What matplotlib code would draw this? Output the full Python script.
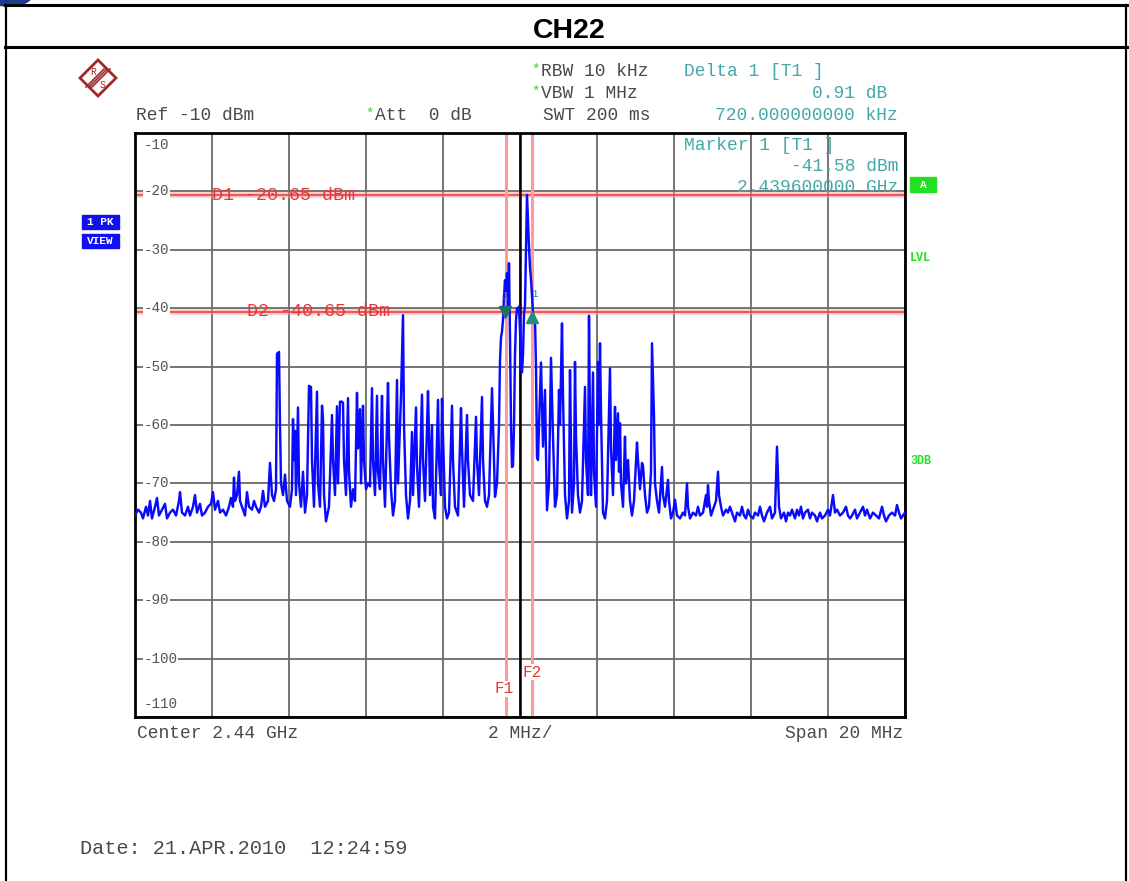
import matplotlib
matplotlib.use("Agg")
import matplotlib.pyplot as plt
import numpy as np
from matplotlib.patches import Polygon, Rectangle, Ellipse
from matplotlib.lines import Line2D

# ---------------- data ----------------
CENTER_MHZ = 2440.0
SPAN_MHZ = 20.0
N_BINS = 770
REF_DBM = -10.0
RANGE_DB = 100.0

D1_DBM = -20.65
D2_DBM = -40.65
M1_FREQ_MHZ = 2439.6
M1_LEVEL = -41.58
DELTA_FREQ_KHZ = 720.0
DELTA_DB = 0.91
F1_MHZ = 2439.63
F2_MHZ = 2440.32

y_tick_values = [-10, -20, -30, -40, -50, -60, -70, -80, -90, -100, -110]

trace_bin = [
    0, 3, 6, 8, 11, 13, 15, 17, 20, 22, 24, 27, 30, 32, 35, 38, 41, 44, 45, 47,
    50, 53, 55, 58, 60, 62, 65, 67, 70, 73, 76, 78, 80, 83, 85, 88, 91, 94, 96, 98,
    99, 100, 102, 104, 105, 108, 110, 112, 114, 117, 119, 121, 124, 126, 128, 130, 133, 135, 137, 139,
    141, 142, 144, 145, 146, 148, 150, 152, 155, 157, 158, 159, 160, 161, 163, 164, 166, 168, 170, 172,
    174, 176, 177, 179, 182, 183, 185, 187, 188, 189, 191, 194, 197, 198, 200, 202, 203, 205, 207, 208,
    209, 211, 213, 214, 216, 218, 220, 222, 223, 225, 226, 228, 229, 231, 233, 235, 237, 238, 240, 242,
    243, 245, 247, 248, 250, 253, 254, 256, 258, 260, 262, 263, 266, 268, 269, 271, 273, 275, 277, 278,
    281, 282, 284, 287, 288, 290, 293, 294, 295, 297, 298, 300, 303, 304, 306, 307, 308, 310, 312, 314,
    317, 318, 320, 323, 326, 327, 329, 332, 333, 335, 338, 341, 342, 344, 347, 348, 350, 352, 354, 357,
    358, 360, 362, 364, 365, 366, 367, 368, 369, 370, 371, 372, 373, 374, 375, 376, 377, 378, 379, 380,
    381, 382, 383, 384, 385, 386, 387, 388, 389, 390, 391, 392, 393, 394, 395, 396, 397, 398, 399, 400,
    401, 402, 403, 404, 406, 408, 410, 411, 412, 414, 416, 418, 420, 422, 424, 425, 427, 428, 430, 432,
    434, 435, 436, 437, 439, 440, 441, 443, 445, 447, 450, 451, 453, 454, 455, 456, 458, 459, 461, 463,
    464, 465, 466, 468, 470, 472, 475, 476, 478, 480, 481, 483, 484, 485, 486, 488, 490, 491, 493, 495,
    497, 499, 502, 503, 505, 507, 508, 510, 512, 514, 516, 517, 518, 519, 520, 522, 524, 527, 528, 530,
    533, 534, 536, 538, 540, 542, 545, 548, 550, 552, 553, 555, 558, 561, 563, 565, 568, 570, 571, 572,
    573, 574, 576, 579, 581, 583, 584, 586, 588, 591, 593, 595, 598, 600, 602, 605, 607, 609, 611, 613,
    615, 618, 620, 623, 625, 627, 629, 632, 635, 637, 640, 642, 643, 644, 646, 649, 651, 653, 655, 657,
    660, 662, 664, 666, 668, 670, 673, 675, 677, 680, 682, 685, 687, 690, 693, 695, 698, 700, 702, 705,
    708, 711, 713, 715, 717, 720, 722, 725, 728, 730, 732, 735, 738, 741, 744, 747, 749, 751, 754, 757,
    760, 762, 764, 766, 768, 770,
]

trace_dbm = [
    -75.5, -74.5, -75, -76, -74, -75.5, -73, -76, -74, -72.5, -75.5, -74.5, -73.5, -76, -75, -74.5, -75.5, -73, -71.5, -75,
    -75.5, -74, -75.5, -74, -72, -75, -73.5, -75.5, -75, -74, -73.5, -71.5, -74.5, -73, -75, -74.5, -75.5, -74, -72.5, -74,
    -69, -73, -72, -68, -73, -74.5, -75.5, -71.5, -74, -74.5, -73, -74, -75, -74, -71.3, -74, -73, -66.5, -72, -73,
    -71, -47.8, -47.5, -60, -70, -72, -68.5, -73, -74, -71, -59, -66, -61, -72, -57, -70, -74, -68, -75, -72,
    -53.3, -53.5, -66, -74, -54.3, -70, -74, -56.7, -59, -72, -76.5, -74, -58.3, -66, -72, -56.8, -70, -56, -56, -56.2,
    -66, -72, -55.4, -68, -74, -71, -73, -54.5, -64, -57.3, -70, -56.7, -66, -71, -70, -70.5, -53.7, -66, -72, -55,
    -68, -71, -55, -66, -74, -52.8, -62, -71, -75.5, -73, -52.3, -70, -55, -41.2, -60, -72, -76, -73, -61.2, -72,
    -57, -67, -74, -54.8, -66, -73, -54.2, -62, -72, -60, -74, -76, -55.7, -66, -72, -55.5, -62, -74, -76, -75,
    -56.7, -66, -74, -75.5, -57.1, -64, -74, -58.3, -66, -72, -73, -58.6, -66, -72, -55.2, -66, -73, -74, -72, -53.7,
    -60, -72.3, -70, -60, -49, -45, -44, -42, -38, -35.2, -37, -34, -40, -32.3, -45, -60, -67.2, -67, -60, -48,
    -42, -40, -40.5, -39.7, -44, -50, -51, -48, -41, -39.5, -30, -20.6, -25, -29.5, -33, -35, -38, -40.8, -41.5, -42,
    -50, -65.5, -66, -60, -49.3, -63.7, -54, -65, -74.6, -70, -48.5, -62, -74, -72, -54, -60, -42.6, -55, -72, -76,
    -73, -50.6, -64, -75, -70, -49.2, -62, -72, -75, -73, -53.5, -66, -72, -41.3, -60, -72, -51, -68, -74, -49.2,
    -60, -46, -58, -75, -76, -73, -50.3, -64, -72, -56.9, -66, -58, -68, -59.7, -70, -74, -62, -70, -66, -73,
    -75.5, -73, -63, -66, -71, -66.5, -67, -72, -75, -74, -68, -46, -52, -58.6, -70, -73, -75, -67.2, -72, -74,
    -69.4, -73, -76, -75, -72.8, -75.5, -76, -75, -75.5, -70, -74, -76, -75, -75.5, -74, -75.5, -75, -73, -72, -74,
    -70.3, -73, -75.5, -74, -73, -68, -72, -74, -75.5, -74.5, -75, -74, -75.5, -76.5, -75, -75.5, -74, -75.5, -76, -74.5,
    -75.5, -76, -75, -75.5, -74, -75.5, -76.5, -75, -74, -76, -75, -63.7, -69, -74, -76, -75, -76.5, -75, -75.5, -74.5,
    -76, -74.5, -75.5, -74, -76, -75, -74.5, -76, -75, -75.5, -76.5, -75, -76, -75.5, -74.5, -75.5, -72, -75, -74.5, -75.5,
    -75, -74, -75.5, -76, -75.5, -74.5, -76, -75, -74, -75.5, -74.5, -76, -75, -75.5, -76, -74, -75.5, -76.5, -75.5, -75,
    -75.5, -73.7, -75, -76, -75.5, -75,
]

# ---------------- figure ----------------
W, H = 1129, 881
fig = plt.figure(figsize=(W / 100, H / 100), dpi=100)
fig.patch.set_facecolor("white")


def fx(x):
    return x / W


def fy(y):
    return 1 - y / H


MONO = ["Liberation Mono", "DejaVu Sans Mono"]
GRAY = "#4a4a4a"
TEAL = "#45a8a8"
RED = "#e83838"
GREEN = "#22e022"
FS = 12.9

# outer frame / title row
for (x0, y0, x1, y1, lw) in [(5, 5, 1127, 5, 2.2), (5, 47, 1127, 47, 2.2),
                             (6, 5, 6, 881, 1.6), (1126, 5, 1126, 881, 1.6)]:
    fig.add_artist(Line2D([fx(x0), fx(x1)], [fy(y0), fy(y1)], color="black", lw=lw))
fig.add_artist(Ellipse((fx(8), fy(-3)), 46 / W, 18 / H, color="#1c3c8c"))
fig.text(fx(569), fy(31), "CH22", ha="center", va="center", fontsize=20.5,
         fontweight="bold", family="Liberation Sans")

# R&S logo
cx, cy, r = 98, 78, 18
logo = Polygon([(fx(cx), fy(cy - r)), (fx(cx + r), fy(cy)), (fx(cx), fy(cy + r)), (fx(cx - r), fy(cy))],
               closed=True, fill=False, edgecolor="#a02828", lw=2.0)
fig.add_artist(logo)
for d in (-3, 0, 3):
    fig.add_artist(Line2D([fx(cx - 9 + d), fx(cx + 9 + d)], [fy(cy + 9), fy(cy - 9)], color="#a02828", lw=1.2))
fig.text(fx(cx - 5), fy(cy - 6), "R", fontsize=7, color="#a02828", ha="center", va="center", family=MONO)
fig.text(fx(cx + 5), fy(cy + 7), "S", fontsize=7, color="#a02828", ha="center", va="center", family=MONO)

# header texts
fig.text(fx(531), fy(70), "*", color=GREEN, fontsize=10, family=MONO, va="center")
fig.text(fx(541), fy(72), "RBW 10 kHz", color=GRAY, fontsize=FS, family=MONO, va="center")
fig.text(fx(531), fy(92), "*", color=GREEN, fontsize=10, family=MONO, va="center")
fig.text(fx(541), fy(94), "VBW 1 MHz", color=GRAY, fontsize=FS, family=MONO, va="center")
fig.text(fx(136), fy(116), "Ref -10 dBm", color=GRAY, fontsize=FS, family=MONO, va="center")
fig.text(fx(365), fy(114), "*", color=GREEN, fontsize=10, family=MONO, va="center")
fig.text(fx(375), fy(116), "Att  0 dB", color=GRAY, fontsize=FS, family=MONO, va="center")
fig.text(fx(543), fy(116), "SWT 200 ms", color=GRAY, fontsize=FS, family=MONO, va="center")
fig.text(fx(684), fy(72), "Delta 1 [T1 ]", color=TEAL, fontsize=FS, family=MONO, va="center")
fig.text(fx(887), fy(94), f"{DELTA_DB:.2f} dB", color=TEAL, fontsize=FS, family=MONO, va="center", ha="right")
fig.text(fx(898), fy(116), f"{DELTA_FREQ_KHZ:.9f} kHz", color=TEAL, fontsize=FS, family=MONO,
         va="center", ha="right")

# left blue boxes
for y, label in [(222, "1 PK"), (241, "VIEW")]:
    fig.add_artist(Rectangle((fx(82), fy(y + 7)), 37 / W, 14 / H, color="#1010f0"))
    fig.text(fx(100.5), fy(y), label, color="white", fontsize=8, fontweight="bold", family=MONO,
             ha="center", va="center")

# right green indicators
fig.add_artist(Rectangle((fx(910), fy(192)), 26 / W, 15 / H, color=GREEN))
fig.text(fx(923), fy(184.5), "A", color="white", fontsize=8, fontweight="bold", family=MONO, ha="center", va="center")
fig.text(fx(910), fy(258), "LVL", color=GREEN, fontsize=8.5, fontweight="bold", family=MONO, va="center")
fig.text(fx(910), fy(461), "3DB", color=GREEN, fontsize=8.5, fontweight="bold", family=MONO, va="center")

# ---------------- axes ----------------
ax = fig.add_axes([fx(135), fy(717), 770 / W, 584 / H])
f_start = CENTER_MHZ - SPAN_MHZ / 2
f_stop = CENTER_MHZ + SPAN_MHZ / 2
ax.set_xlim(f_start, f_stop)
ax.set_ylim(REF_DBM - RANGE_DB, REF_DBM)
ax.set_xticks(np.linspace(f_start, f_stop, 11))
ax.set_yticks(y_tick_values)
ax.tick_params(length=0, labelbottom=False, labelleft=False)
ax.grid(True, color="#6a6a6a", lw=1.3)
ax.set_axisbelow(True)
for s in ax.spines.values():
    s.set_linewidth(2.0)
    s.set_color("black")

# y labels inside the grid
for v in y_tick_values:
    yy = v
    if v == REF_DBM:
        yy = v - 2.05
    elif v == REF_DBM - RANGE_DB:
        yy = v + 2.2
    ax.text(f_start + 0.22, yy, f"{v}", fontsize=10.3, family=MONO, color="#555555", ha="left", va="center",
            bbox=dict(facecolor="white", edgecolor="none", pad=0.6), zorder=3)

# display lines
for lvl, lab, fpos in [(D1_DBM, "D1 -20.65 dBm", f_start + 2.0), (D2_DBM, "D2 -40.65 dBm", f_start + 2.9)]:
    ax.axhline(lvl, color="#ff9a9a", lw=4, alpha=0.55, zorder=2)
    ax.axhline(lvl, color=RED, lw=1.1, zorder=2)
    ax.text(fpos, lvl, lab, color=RED, fontsize=13.2, family=MONO, va="center", ha="left", zorder=3)

# frequency lines
ax.axvline(F1_MHZ, color="#ff9a9a", lw=2.2, zorder=2)
ax.axvline(F2_MHZ, color="#ff9a9a", lw=2.2, zorder=2)
ax.axvline(CENTER_MHZ, color="black", lw=1.8, zorder=2)
ax.text(F1_MHZ - 0.05, -105.2, "F1", color=RED, fontsize=11.5, family=MONO, ha="center", va="center", zorder=3,
        bbox=dict(facecolor="white", edgecolor="none", pad=0.3))
ax.text(F2_MHZ, -102.3, "F2", color=RED, fontsize=11.5, family=MONO, ha="center", va="center", zorder=3,
        bbox=dict(facecolor="white", edgecolor="none", pad=0.3))

# trace
trace_freq = [f_start + b * SPAN_MHZ / N_BINS for b in trace_bin]
ax.plot(trace_freq, trace_dbm, color="#0a0aff", lw=1.75, zorder=4)

# markers
ax.plot([M1_FREQ_MHZ], [M1_LEVEL + 1.0], marker="v", color="#1f6f63", ms=8, zorder=5)
ax.plot([M1_FREQ_MHZ + DELTA_FREQ_KHZ / 1000], [M1_LEVEL + DELTA_DB - 0.8], marker="^", color="#1f8f7f", ms=8, zorder=5)
ax.text(M1_FREQ_MHZ, M1_LEVEL + 3.6, "1", color="#3a8a80", fontsize=8, family=MONO, ha="center", va="center", zorder=5)
ax.text(M1_FREQ_MHZ + DELTA_FREQ_KHZ / 1000 + 0.05, M1_LEVEL + 4.0, "1", color="#3a8a80", fontsize=8,
        family=MONO, ha="center", va="center", zorder=5)

# marker readout inside the plot
ax.text(f_start + (684 - 135) / 38.5, -12.2, "Marker 1 [T1 ]", color=TEAL, fontsize=FS, family=MONO,
        va="center", ha="left", zorder=6)
ax.text(f_stop - 0.18, -15.8, f"{M1_LEVEL:.2f} dBm", color=TEAL, fontsize=FS, family=MONO,
        va="center", ha="right", zorder=6)
ax.text(f_stop - 0.18, -19.4, f"{M1_FREQ_MHZ / 1000:.9f} GHz", color=TEAL, fontsize=FS, family=MONO,
        va="center", ha="right", zorder=6)

# footer
fig.text(fx(137), fy(733), f"Center {CENTER_MHZ / 1000:.2f} GHz", color=GRAY, fontsize=FS, family=MONO, va="center")
fig.text(fx(520), fy(733), "2 MHz/", color=GRAY, fontsize=FS, family=MONO, va="center", ha="center")
fig.text(fx(903), fy(733), f"Span {SPAN_MHZ:.0f} MHz", color=GRAY, fontsize=FS, family=MONO, va="center", ha="right")
fig.text(fx(80), fy(849), "Date: 21.APR.2010  12:24:59", color=GRAY, fontsize=14.6, family=MONO, va="center")

fig.savefig("out.png", dpi=100)
